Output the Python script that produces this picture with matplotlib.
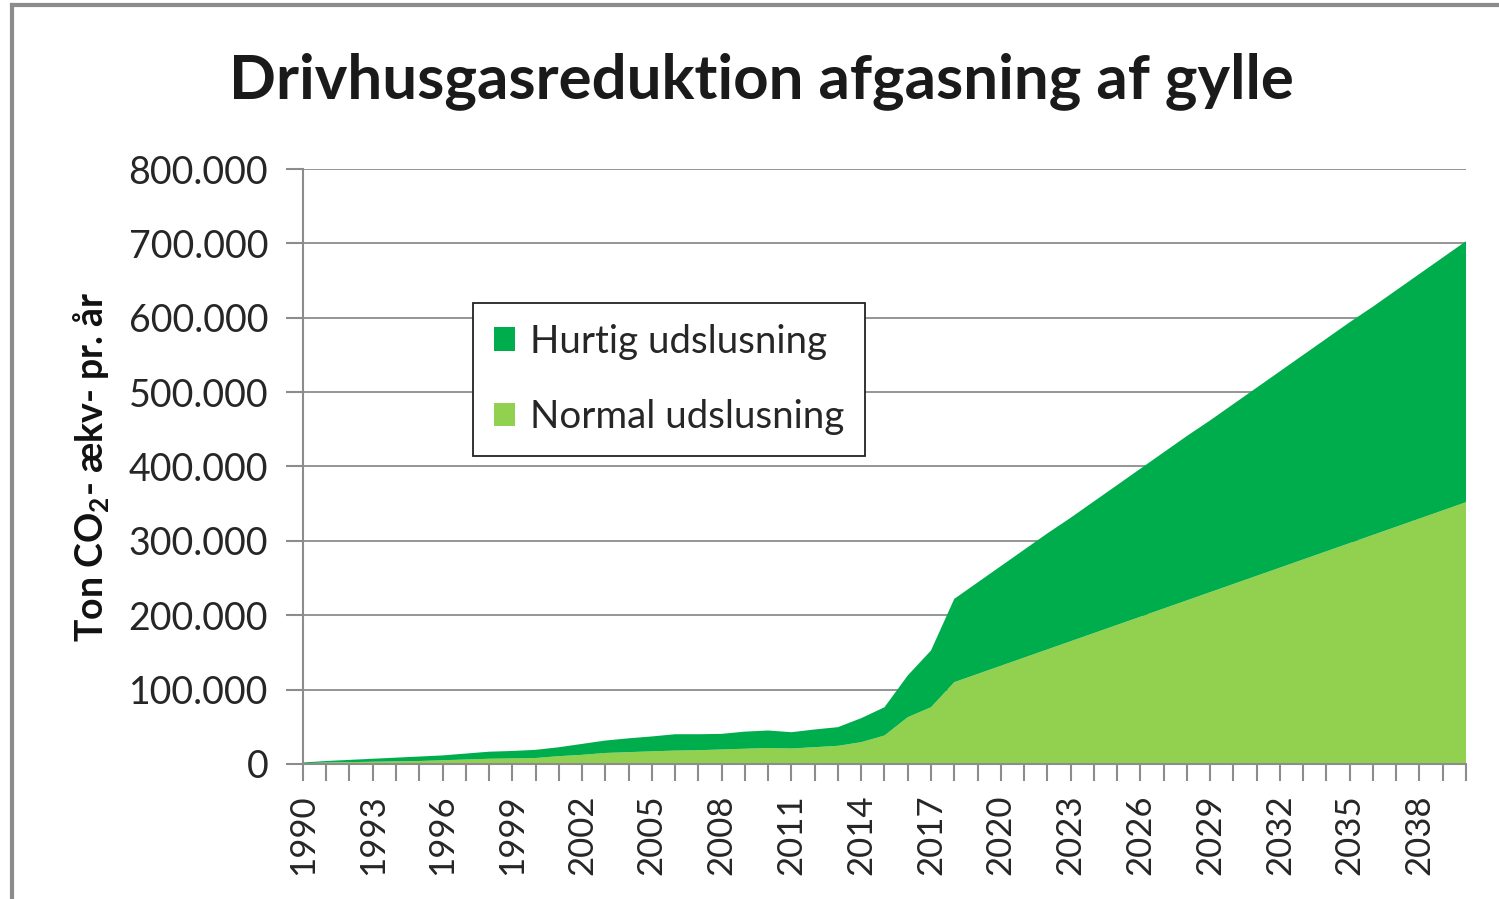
import matplotlib.pyplot as plt
from matplotlib.lines import Line2D
from matplotlib.ticker import FuncFormatter

plt.rcParams['font.family'] = ['Lato', 'DejaVu Sans']
plt.rcParams['mathtext.fontset'] = 'custom'
plt.rcParams['mathtext.rm'] = 'Lato'
plt.rcParams['mathtext.bf'] = 'Lato:bold'

years = list(range(1990, 2041))

# ton CO2-aekv. pr. aar
normal = [1000, 2000, 2500, 3000, 3500, 4000, 5000, 6000, 7000, 7500,
          8000, 10500, 12300, 14800, 15900, 17000, 18000, 18500, 19500, 20500,
          21500, 20800, 22600, 24400, 29300, 38300, 62900, 76300, 110000, 121000,
          132000, 143000, 154000, 165000, 176000, 187000, 198000, 209000, 220000, 231000,
          242000, 253000, 264000, 275000, 286000, 297000, 308000, 319000, 330000, 341000,
          352000]
hurtig = [1000, 2000, 3000, 4000, 5000, 6000, 6500, 8000, 9500, 10000,
          11000, 12000, 14700, 16700, 18600, 20000, 22000, 21500, 21000, 23000,
          23500, 21900, 23800, 25100, 32300, 38000, 56100, 76300, 112000, 123000,
          134000, 145000, 156000, 166000, 177000, 188000, 199000, 210000, 221000, 231000,
          242000, 253000, 264000, 275000, 286000, 297000, 307000, 318000, 329000, 340000,
          351000]

labels = ['Normal udslusning', 'Hurtig udslusning']
colors = ['#92D050', '#00AD4C']

fig = plt.figure(figsize=(14.99, 8.99), dpi=100)
ax = fig.add_axes([0.2021, 0.1502, 0.7759, 0.6618])

polys = ax.stackplot(years, normal, hurtig, colors=colors, labels=labels, linewidth=0)

ax.set_xlim(1990, 2040)
ax.set_ylim(0, 800000)
ax.set_yticks(range(0, 800001, 100000))
ax.yaxis.set_major_formatter(FuncFormatter(lambda v, p: '{:,.0f}'.format(v).replace(',', '.')))
ax.set_xticks(years)
ax.set_xticklabels([str(y) if (y - 1990) % 3 == 0 else '' for y in years], rotation=90)

ax.grid(axis='y', color='#8c8c8c', linewidth=1.3)
ax.set_axisbelow(True)
for s in ['top', 'right']:
    ax.spines[s].set_visible(False)
for s in ['left', 'bottom']:
    ax.spines[s].set_color('#8c8c8c')
    ax.spines[s].set_linewidth(1.5)
ax.tick_params(axis='both', colors='#8c8c8c', width=1.5, length=12, labelcolor='#262626')
ax.tick_params(axis='x', pad=10, labelsize=25)
ax.tick_params(axis='y', pad=13, labelsize=27)

ax.set_ylabel(r'Ton CO$_\mathbf{2}$- ækv- pr. år', fontsize=27, fontweight='bold',
              color='#111111')
ax.yaxis.set_label_coords(-0.164, 0.5)

fig.text(0.508, 0.91, 'Drivhusgasreduktion afgasning af gylle', ha='center', va='center',
         fontsize=44.5, fontweight='bold', color='#1a1a1a')

handles = [polys[1], polys[0]]
leg = ax.legend(handles, [labels[1], labels[0]], loc='upper left',
                bbox_to_anchor=(0.146, 0.775), borderaxespad=0, fontsize=27.7,
                fancybox=False, framealpha=1, edgecolor='#222222',
                handlelength=0.55, handleheight=0.55, handletextpad=0.4,
                labelspacing=1.03, borderpad=0.54)
leg.get_frame().set_linewidth(1.3)
for t in leg.get_texts():
    t.set_color('#262626')

# grey border of the chart area
fig.add_artist(Line2D([0.008, 1.0], [0.9945, 0.9945], color='#8c8c8c', linewidth=3,
                      transform=fig.transFigure))
fig.add_artist(Line2D([0.008, 0.008], [0.0, 0.9945], color='#8c8c8c', linewidth=3,
                      transform=fig.transFigure))

fig.savefig('out.png', dpi=100)
